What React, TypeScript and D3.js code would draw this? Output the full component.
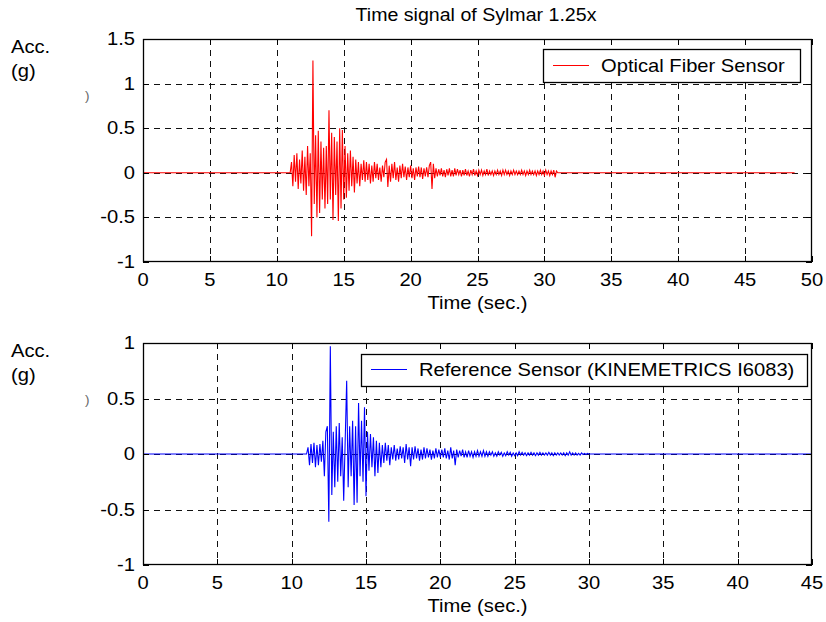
import React, { useEffect, useRef } from "react";
import * as d3 from "d3";

// Sylmar 1.25x record: acceleration (g) sampled every 0.1 s during the shaking
const fiberStart = 11.0;
const fiberStep = 0.1;
const fiberEnd = 48.7;
const fiberValues = [
  0,
  0.12, -0.15, 0.2, -0.1, 0.22, -0.18, 0.15, -0.12, 0.25, -0.2,
  0.18, -0.25, 0.3, -0.15, 0.22, -0.71, 1.26, -0.35, 0.42, -0.5,
  0.47, -0.45, 0.35, -0.3, 0.28, -0.4, 0.3, -0.35, 0.7, -0.3,
  0.45, -0.53, 0.4, -0.25, 0.35, -0.54, 0.5, -0.4, 0.48, -0.3,
  0.3, -0.28, 0.22, -0.2, 0.25, -0.15, 0.18, -0.22, 0.15, -0.12,
  0.12, -0.15, 0.1, -0.08, 0.14, -0.1, 0.12, -0.08, 0.1, -0.12,
  0.08, -0.1, 0.12, -0.06, 0.1, -0.08, 0.06, -0.1, 0.08, -0.05,
  0.12, 0.15, -0.16, 0.08, -0.1, 0.1, -0.06, 0.12, -0.08, 0.06,
  -0.1, 0.08, -0.06, 0.1, -0.05, 0.07, -0.08, 0.06, -0.05, 0.08,
  -0.06, 0.05, -0.08, 0.06, -0.04, 0.07, -0.05, 0.06, -0.07, 0.05,
  -0.04, 0.06, -0.05, 0.08, 0.12, -0.18, 0.1, -0.06, 0.05, -0.04,
  0.04, -0.03, 0.05, -0.04, 0.03, -0.05, 0.04, -0.03, 0.05, -0.04,
  0.03, -0.04, 0.05, -0.03, 0.04, -0.02, 0.03, -0.04, 0.03, -0.03,
  0.04, -0.03, 0.02, -0.04, 0.03, -0.02, 0.04, -0.03, 0.02, -0.03,
  0.03, -0.02, 0.03, -0.03, 0.02, -0.02, 0.04, -0.03, 0.02, -0.02,
  0.02, -0.03, 0.02, -0.02, 0.03, -0.02, 0.02, -0.03, 0.03, -0.02,
  0.03, -0.02, 0.02, -0.03, 0.02, -0.02, 0.03, -0.02, 0.02, -0.02,
  0.02, -0.02, 0.03, -0.02, 0.02, -0.03, 0.02, -0.02, 0.03, -0.02,
  0.02, -0.02, 0.02, -0.03, 0.02, -0.02, 0.03, -0.02, 0.02, -0.03,
  0.03, -0.02, 0.02, -0.03, 0.02, -0.02, 0.03, -0.05, 0.02, 0,
];

const refStart = 11.0;
const refStep = 0.1;
const refEnd = 45;
const refValues = [
  0,
  0.06, -0.1, 0.09, -0.08, 0.1, -0.12, 0.08, -0.1, 0.09, -0.07,
  0.12, -0.2, 0.2, 0.25, -0.61, 0.97, -0.37, 0.2, -0.3, 0.25,
  -0.25, 0.28, -0.2, 0.15, -0.42, 0.12, 0.66, -0.3, 0.25, -0.2,
  0.3, -0.46, 0.25, -0.44, 0.46, -0.2, 0.3, -0.25, 0.42, -0.38,
  0.2, -0.15, 0.18, -0.12, 0.15, -0.2, 0.12, -0.17, 0.1, -0.12,
  0.08, -0.08, 0.1, -0.06, 0.08, -0.1, 0.06, -0.05, 0.08, -0.06,
  0.05, -0.05, 0.07, -0.04, 0.06, -0.08, 0.09, -0.05, 0.06, -0.11,
  0.06, -0.05, 0.07, -0.04, 0.05, -0.06, 0.04, -0.05, 0.06, -0.04,
  0.05, -0.03, 0.04, -0.05, 0.03, -0.04, 0.05, -0.03, 0.04, -0.03,
  0.04, -0.03, 0.05, -0.04, 0.03, -0.05, 0.06, -0.04, 0.03, -0.1,
  0.04, -0.03, 0.03, -0.02, 0.04, -0.03, 0.02, -0.03, 0.03, -0.02,
  0.02, -0.03, 0.02, -0.02, 0.03, -0.02, 0.02, -0.02, 0.03, -0.02,
  0.02, -0.02, 0.02, -0.01, 0.02, -0.02, 0.01, -0.02, 0.02, -0.01,
  0.015, -0.02, 0.01, -0.015, 0.02, -0.01, 0.015, -0.02, 0.01, -0.015,
  0.01, -0.015, 0.02, -0.01, 0.015, -0.01, 0.01, -0.015, 0.01, -0.01,
  0.015, -0.01, 0.01, -0.015, 0.01, -0.01, 0.015, -0.01, 0.01, -0.01,
  0.01, -0.01, 0.015, -0.01, 0.01, -0.015, 0.01, -0.01, 0.01, -0.01,
  0.01, -0.01, 0.01, -0.015, 0.01, -0.01, 0.02, -0.01, 0.01, -0.01,
  0.01, -0.01, 0.005, -0.01, 0.01, -0.005, 0.005, -0.005, 0.005, 0,
];

const topXTicks = [0, 5, 10, 15, 20, 25, 30, 35, 40, 45, 50];
const topYTicks = [-1, -0.5, 0, 0.5, 1, 1.5];
const bottomXTicks = [0, 5, 10, 15, 20, 25, 30, 35, 40, 45];
const bottomYTicks = [-1, -0.5, 0, 0.5, 1];

const titleText = "Time signal of Sylmar 1.25x";
const xLabel = "Time (sec.)";
const fiberLabel = "Optical Fiber Sensor";
const refLabel = "Reference Sensor (KINEMETRICS I6083)";

const FONT = "'Liberation Sans', Arial, sans-serif";
// glyphs are drawn slightly wide
const STRETCH = 1.12;

function buildSeries(start: number, step: number, values: number[], end: number): [number, number][] {
  const pts: [number, number][] = [[0, 0]];
  values.forEach((v, i) => pts.push([start + i * step, v]));
  pts.push([end, 0]);
  return pts;
}

type Sel = d3.Selection<any, unknown, null, undefined>;

function addText(parent: Sel, x: number, y: number, str: string, anchor = "start", size = 18, fill = "#000") {
  return parent
    .append("text")
    .attr("transform", `translate(${x},${y}) scale(${STRETCH},1)`)
    .attr("text-anchor", anchor)
    .attr("font-family", FONT)
    .attr("font-size", size)
    .attr("fill", fill)
    .text(str);
}

type PanelSpec = {
  top: number;
  bottom: number;
  xMax: number;
  yMin: number;
  yMax: number;
  xTicks: number[];
  yTicks: number[];
  data: [number, number][];
  color: string;
  legend: string;
  legendBox: { x0: number; x1: number; y0: number; y1: number };
};

const LEFT = 143;
const RIGHT = 812;

export default function App() {
  const ref = useRef<SVGSVGElement | null>(null);

  useEffect(() => {
    const svg = d3.select(ref.current) as unknown as Sel;
    svg.selectAll("*").remove();

    svg.append("rect").attr("width", 826).attr("height", 622).attr("fill", "#fff");

    addText(svg, 476, 21, titleText, "middle", 17.5);

    const panels: PanelSpec[] = [
      {
        top: 39,
        bottom: 262,
        xMax: 50,
        yMin: -1,
        yMax: 1.5,
        xTicks: topXTicks,
        yTicks: topYTicks,
        data: buildSeries(fiberStart, fiberStep, fiberValues, fiberEnd),
        color: "#ff0000",
        legend: fiberLabel,
        legendBox: { x0: 543, x1: 800, y0: 49, y1: 82 },
      },
      {
        top: 343,
        bottom: 565,
        xMax: 45,
        yMin: -1,
        yMax: 1,
        xTicks: bottomXTicks,
        yTicks: bottomYTicks,
        data: buildSeries(refStart, refStep, refValues, refEnd),
        color: "#0000ff",
        legend: refLabel,
        legendBox: { x0: 361, x1: 807, y0: 354, y1: 386 },
      },
    ];

    panels.forEach((p) => {
      const x = d3.scaleLinear().domain([0, p.xMax]).range([LEFT, RIGHT]);
      const y = d3.scaleLinear().domain([p.yMin, p.yMax]).range([p.bottom, p.top]);
      const g = svg.append("g");

      // dashed grid
      const grid = g.append("g").attr("stroke", "#111").attr("stroke-width", 1).attr("stroke-dasharray", "6,5");
      p.xTicks.slice(1, -1).forEach((t) => {
        grid.append("line").attr("x1", Math.round(x(t)) + 0.5).attr("x2", Math.round(x(t)) + 0.5).attr("y1", p.top).attr("y2", p.bottom);
      });
      p.yTicks.slice(1, -1).forEach((t) => {
        grid.append("line").attr("x1", LEFT).attr("x2", RIGHT).attr("y1", Math.round(y(t)) + 0.5).attr("y2", Math.round(y(t)) + 0.5);
      });

      // signal trace
      const line = d3
        .line<[number, number]>()
        .x((d) => x(d[0]))
        .y((d) => y(d[1]));
      g.append("path")
        .attr("d", line(p.data) as string)
        .attr("fill", "none")
        .attr("stroke", p.color)
        .attr("stroke-width", 1.1);

      // box and inner ticks on all four sides
      g.append("rect")
        .attr("x", LEFT + 0.5)
        .attr("y", p.top + 0.5)
        .attr("width", RIGHT - LEFT - 1)
        .attr("height", p.bottom - p.top - 1)
        .attr("fill", "none")
        .attr("stroke", "#000")
        .attr("stroke-width", 1.3);
      const ticks = g.append("g").attr("stroke", "#000").attr("stroke-width", 1);
      const tl = 6;
      p.xTicks.forEach((t) => {
        const xx = Math.round(x(t)) + 0.5;
        ticks.append("line").attr("x1", xx).attr("x2", xx).attr("y1", p.bottom).attr("y2", p.bottom - tl);
        ticks.append("line").attr("x1", xx).attr("x2", xx).attr("y1", p.top).attr("y2", p.top + tl);
      });
      p.yTicks.forEach((t) => {
        const yy = Math.round(y(t)) + 0.5;
        ticks.append("line").attr("x1", LEFT).attr("x2", LEFT + tl).attr("y1", yy).attr("y2", yy);
        ticks.append("line").attr("x1", RIGHT).attr("x2", RIGHT - tl).attr("y1", yy).attr("y2", yy);
      });

      // tick labels
      const labels = g.append("g");
      p.xTicks.forEach((t) => addText(labels, x(t), p.bottom + 24, String(t), "middle"));
      p.yTicks.forEach((t) => addText(labels, LEFT - 8, y(t) + 6, String(t), "end"));
      addText(labels, (LEFT + RIGHT) / 2, p.bottom + 47, xLabel, "middle");

      // y label
      addText(labels, 11, p.top + 14, "Acc.");
      addText(labels, 11, p.top + 38, "(g)");
      addText(labels, 85, p.top + 61, ")", "start", 12, "#666");

      // legend
      const lb = p.legendBox;
      const leg = g.append("g");
      leg
        .append("rect")
        .attr("x", lb.x0 + 0.5)
        .attr("y", lb.y0 + 0.5)
        .attr("width", lb.x1 - lb.x0)
        .attr("height", lb.y1 - lb.y0)
        .attr("fill", "#fff")
        .attr("stroke", "#000")
        .attr("stroke-width", 1.3);
      const ly = Math.round((lb.y0 + lb.y1) / 2) - 0.5;
      leg
        .append("line")
        .attr("x1", lb.x0 + 10)
        .attr("x2", lb.x0 + 46)
        .attr("y1", ly)
        .attr("y2", ly)
        .attr("stroke", p.color)
        .attr("stroke-width", 1);
      addText(leg, lb.x0 + 58, ly + 6.5, p.legend);
    });
  }, []);

  return (
    <svg
      ref={ref}
      width={826}
      height={622}
      style={{ position: "absolute", left: 0, top: 0, display: "block" }}
    />
  );
}
